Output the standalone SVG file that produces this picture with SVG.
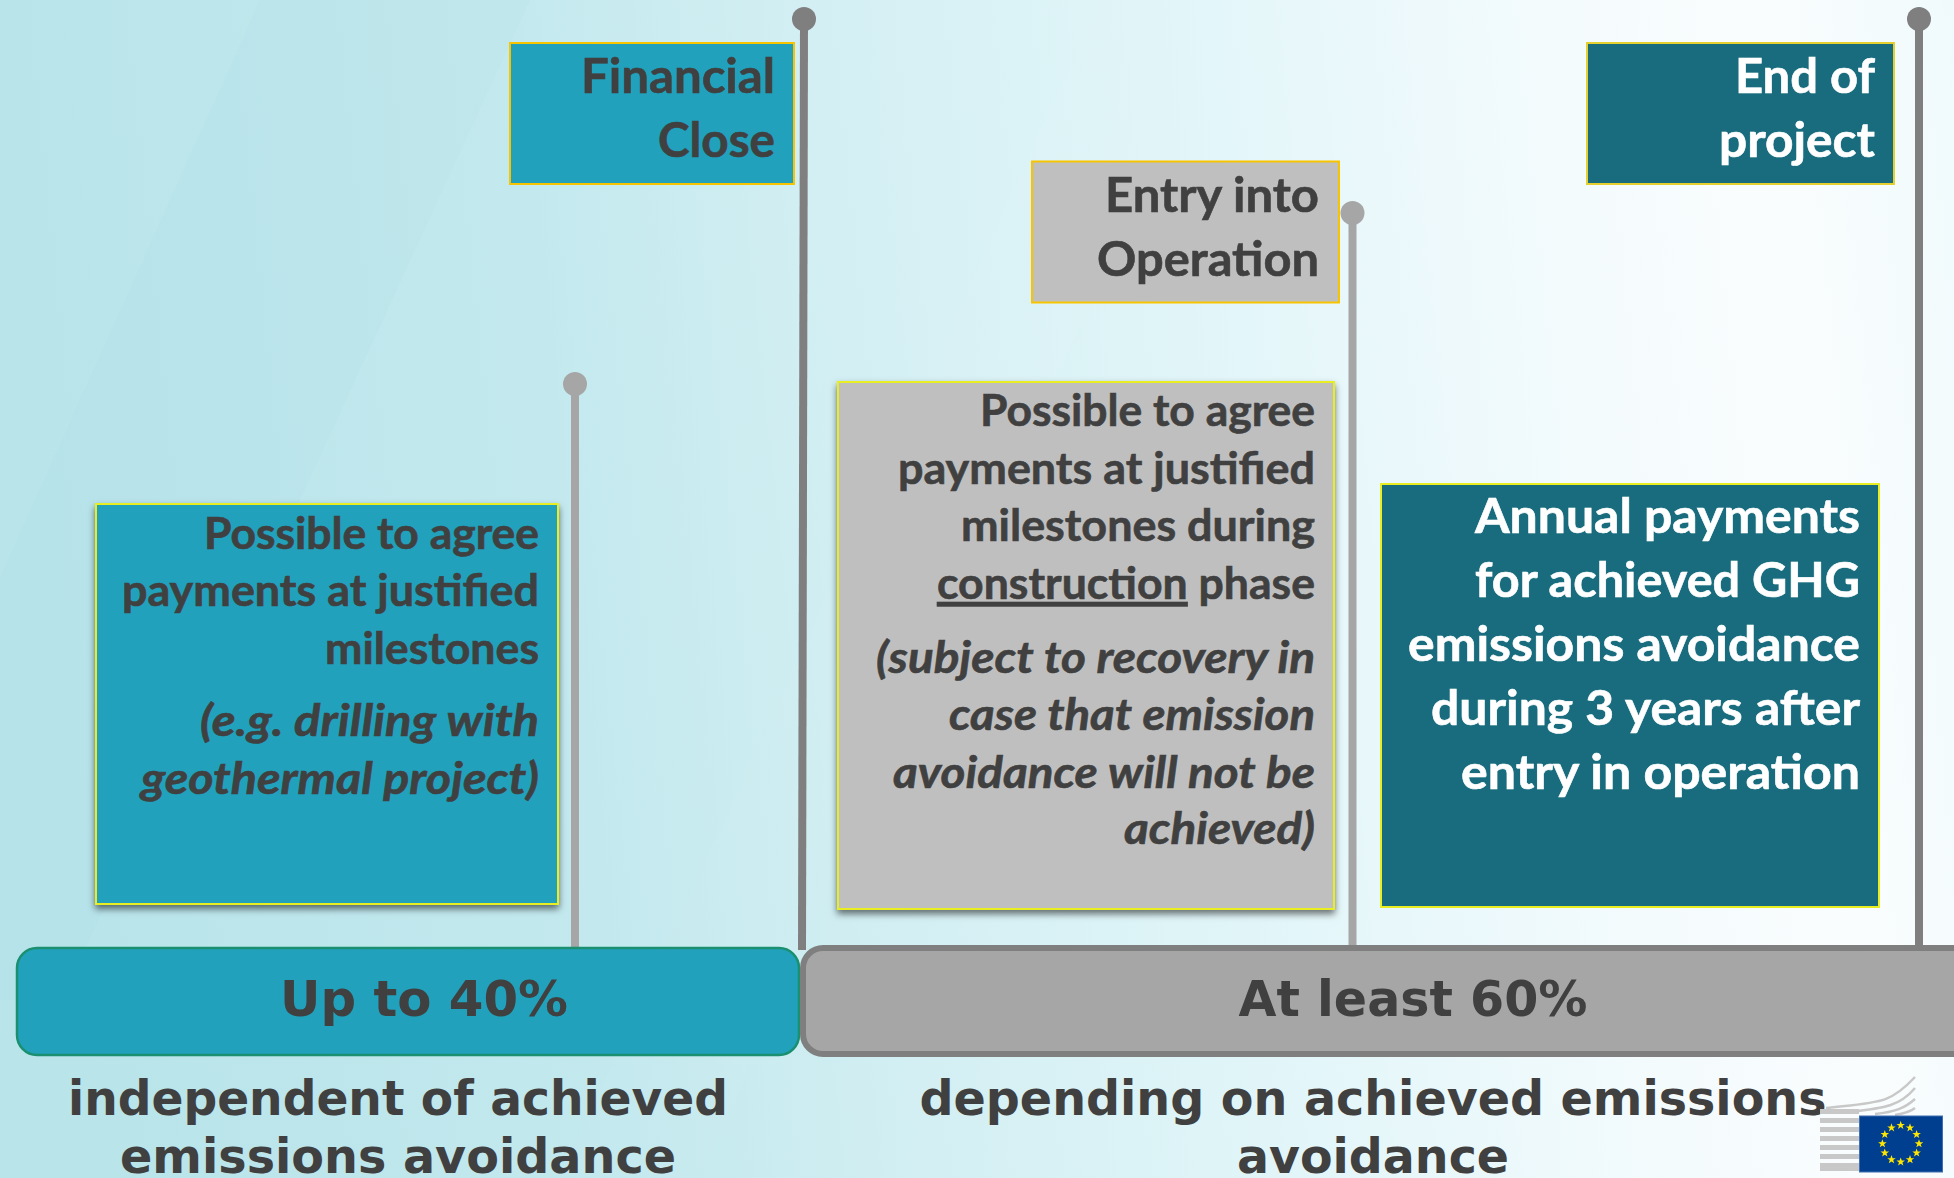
<svg xmlns="http://www.w3.org/2000/svg" xmlns:xlink="http://www.w3.org/1999/xlink" width="1954" height="1178" viewBox="0 0 1954 1178">
<style>
.b{font-family:Lato,"Liberation Sans",sans-serif;font-weight:700;text-anchor:end;fill:#404040;stroke:#404040;stroke-width:.6}
.w{fill:#fff;stroke:#fff}
.l{font-size:48px}.m{font-size:43px}.i{font-style:italic}
.h{font-family:"DejaVu Sans",sans-serif;font-weight:700;text-anchor:middle;fill:#404040}
.c{font-size:49.500px}.s{font-size:47.500px}
.pd{stroke:#7f7f7f;stroke-width:8;fill:none}.pl{stroke:#a6a6a6;stroke-width:8;fill:none}
.amber{stroke:#f8c400;stroke-width:2}.yel{stroke:#e8ee20;stroke-width:2}
.band{fill:#c8c8c8}
</style>
<defs>
<linearGradient id="bg" gradientUnits="userSpaceOnUse" x1="0" y1="200" x2="1954" y2="0"><stop offset="0" stop-color="#b8e4ea"/><stop offset="0.27" stop-color="#c3e9ee"/><stop offset="0.42" stop-color="#d3eff3"/><stop offset="0.62" stop-color="#e3f6f9"/><stop offset="0.8" stop-color="#f4fbfd"/><stop offset="0.9" stop-color="#fafdfe"/><stop offset="1" stop-color="#f0fafc"/></linearGradient>
<filter id="sh" x="-5%" y="-5%" width="112%" height="112%"><feDropShadow dx="0" dy="4" stdDeviation="3.500" flood-color="#000" flood-opacity=".55"/></filter>
<polygon id="star" points="0,-4.500 1.100,-1.400 4.300,-1.400 1.700,.5 2.700,3.600 0,1.800 -2.700,3.600 -1.700,.5 -4.300,-1.400 -1.100,-1.400"/>
</defs>
<rect id="background" width="1954" height="1178" fill="url(#bg)"/>
<polygon points="260,0 530,0 300,500 60,1000 -190,1000" fill="#a6dce4" opacity=".1"/>
<polygon points="1100,0 1230,0 1000,500 700,1178 560,1178" fill="#fff" opacity=".03"/>
<g id="connectors">
<path class="pl" d="M575 384V950"/><circle cx="575" cy="384" r="12" fill="#a6a6a6"/>
<path class="pd" d="M804 19L802 950"/><circle cx="804" cy="19" r="12" fill="#7f7f7f"/>
<path class="pl" d="M1352.500 213V950"/><circle cx="1352.500" cy="213" r="12" fill="#a6a6a6"/>
<path class="pd" d="M1919 19V950"/><circle cx="1919" cy="19" r="12" fill="#7f7f7f"/>
</g>
<g id="financial-close"><rect class="amber" x="510" y="43" width="284" height="141" fill="#21a1bc"/>
<text class="b l" x="775" y="93" textLength="194" lengthAdjust="spacingAndGlyphs">Financial</text><text class="b l" x="775" y="157" textLength="117" lengthAdjust="spacingAndGlyphs">Close</text></g>
<g id="entry-into-operation"><rect class="amber" x="1032" y="161.500" width="307" height="141" fill="#bfbfbf"/>
<text class="b l" x="1319" y="212" textLength="214" lengthAdjust="spacingAndGlyphs">Entry into</text><text class="b l" x="1319" y="276" textLength="222" lengthAdjust="spacingAndGlyphs">Operation</text></g>
<g id="end-of-project"><rect x="1587" y="43" width="307" height="141" fill="#186c7d" stroke="#e6d030" stroke-width="2"/>
<text class="b l w" x="1875" y="93" textLength="140" lengthAdjust="spacingAndGlyphs">End of</text><text class="b l w" x="1875" y="157" textLength="156" lengthAdjust="spacingAndGlyphs">project</text></g>
<g id="milestones-40"><rect class="yel" x="96" y="504" width="462" height="400" fill="#21a1bc" filter="url(#sh)"/>
<text class="b m" x="539" y="549" textLength="335" lengthAdjust="spacingAndGlyphs">Possible to agree</text><text class="b m" x="539" y="606" textLength="417" lengthAdjust="spacingAndGlyphs">payments at justified</text><text class="b m" x="539" y="664" textLength="214" lengthAdjust="spacingAndGlyphs">milestones</text>
<text class="b m i" x="539" y="736" textLength="339" lengthAdjust="spacingAndGlyphs">(e.g. drilling with</text><text class="b m i" x="539" y="794" textLength="398" lengthAdjust="spacingAndGlyphs">geothermal project)</text></g>
<g id="milestones-construction"><rect class="yel" x="838" y="382" width="496" height="527" fill="#bfbfbf" filter="url(#sh)"/>
<text class="b m" x="1315" y="426" textLength="335" lengthAdjust="spacingAndGlyphs">Possible to agree</text><text class="b m" x="1315" y="484" textLength="417" lengthAdjust="spacingAndGlyphs">payments at justified</text><text class="b m" x="1315" y="541" textLength="354" lengthAdjust="spacingAndGlyphs">milestones during</text>
<text class="b m" x="1315" y="599" textLength="378" lengthAdjust="spacingAndGlyphs"><tspan text-decoration="underline">construction</tspan> phase</text>
<text class="b m i" x="1315" y="673" textLength="439" lengthAdjust="spacingAndGlyphs">(subject to recovery in</text><text class="b m i" x="1315" y="730" textLength="366" lengthAdjust="spacingAndGlyphs">case that emission</text><text class="b m i" x="1315" y="788" textLength="422" lengthAdjust="spacingAndGlyphs">avoidance will not be</text><text class="b m i" x="1315" y="844" textLength="191" lengthAdjust="spacingAndGlyphs">achieved)</text></g>
<g id="annual-payments"><rect class="yel" x="1381" y="484" width="498" height="423" fill="#186c7d"/>
<text class="b l w" x="1860" y="533" textLength="385" lengthAdjust="spacingAndGlyphs">Annual payments</text><text class="b l w" x="1860" y="597" textLength="385" lengthAdjust="spacingAndGlyphs">for achieved GHG</text><text class="b l w" x="1860" y="661" textLength="452" lengthAdjust="spacingAndGlyphs">emissions avoidance</text><text class="b l w" x="1860" y="725" textLength="429" lengthAdjust="spacingAndGlyphs">during 3 years after</text><text class="b l w" x="1860" y="789" textLength="399" lengthAdjust="spacingAndGlyphs">entry in operation</text></g>
<g id="up-to-40"><rect x="17" y="948" width="782" height="107" rx="20" fill="#21a1bc" stroke="#1a9070" stroke-width="2.500"/>
<text class="h c" x="424" y="1016" textLength="288" lengthAdjust="spacingAndGlyphs">Up to 40%</text></g>
<g id="at-least-60"><rect x="803" y="948" width="1200" height="106" rx="20" fill="#a6a6a6" stroke="#7f7f7f" stroke-width="6"/>
<text class="h c" x="1413" y="1016" textLength="349" lengthAdjust="spacingAndGlyphs">At least 60%</text></g>
<g id="label-independent"><text class="h s" x="398" y="1115" textLength="660" lengthAdjust="spacingAndGlyphs">independent of achieved</text><text class="h s" x="398" y="1173" textLength="556" lengthAdjust="spacingAndGlyphs">emissions avoidance</text></g>
<g id="label-depending"><text class="h s" x="1373" y="1115" textLength="907" lengthAdjust="spacingAndGlyphs">depending on achieved emissions</text><text class="h s" x="1373" y="1173" textLength="272" lengthAdjust="spacingAndGlyphs">avoidance</text></g>
<g id="ec-logo">
<rect class="band" x="1820" y="1109" width="39" height="5"/><rect class="band" x="1820" y="1118" width="39" height="5"/><rect class="band" x="1820" y="1127" width="39" height="5"/><rect class="band" x="1820" y="1136" width="39" height="5"/><rect class="band" x="1820" y="1145" width="39" height="5"/><rect class="band" x="1820" y="1154" width="39" height="5"/><rect class="band" x="1820" y="1163" width="39" height="8"/>
<g fill="none" stroke="#c8c8c8" stroke-width="2.500"><path d="M1826 1108C1880 1102 1890 1104 1915 1077"/><path d="M1850 1112C1885 1108 1900 1106 1915 1088"/><path d="M1875 1114C1895 1112 1905 1108 1915 1099"/><path d="M1895 1115C1902 1114 1910 1112 1915 1108"/></g>
<rect x="1859.500" y="1116" width="83" height="56" fill="#003f8f" stroke="#3f6fb0"/>
<g fill="#ffe600"><use xlink:href="#star" href="#star" x="1900.700" y="1125.300"/><use xlink:href="#star" href="#star" x="1910" y="1127.800"/><use xlink:href="#star" href="#star" x="1916.600" y="1134.500"/><use xlink:href="#star" href="#star" x="1919" y="1143.700"/><use xlink:href="#star" href="#star" x="1916.600" y="1152.900"/><use xlink:href="#star" href="#star" x="1910" y="1159.600"/><use xlink:href="#star" href="#star" x="1900.700" y="1162"/><use xlink:href="#star" href="#star" x="1891.500" y="1159.600"/><use xlink:href="#star" href="#star" x="1884.800" y="1152.900"/><use xlink:href="#star" href="#star" x="1882.400" y="1143.700"/><use xlink:href="#star" href="#star" x="1884.800" y="1134.500"/><use xlink:href="#star" href="#star" x="1891.500" y="1127.800"/></g>
</g>
</svg>
